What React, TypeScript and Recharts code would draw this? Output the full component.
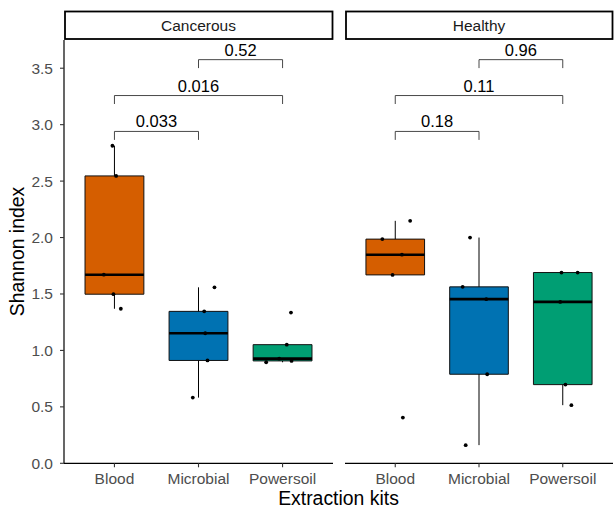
import React from 'react';
import { ComposedChart, XAxis, YAxis, Scatter, ReferenceArea, ReferenceLine } from 'recharts';

// ---- data ----
const kits = ['Blood', 'Microbial', 'Powersoil'];
const kitColors = ['#D55E00', '#0072B2', '#009E73'];
const panels = ['Cancerous', 'Healthy'];
const yTicks = [0, 0.5, 1, 1.5, 2, 2.5, 3, 3.5];

// Shannon index of each sample
const cancerousBlood = [2.813, 2.546, 1.671, 1.498, 1.369];
const cancerousMicrobial = [1.559, 1.346, 1.152, 0.911, 0.582];
const cancerousPowersoil = [1.335, 1.051, 0.927, 0.895, 0.907];
const healthyBlood = [2.148, 1.986, 1.848, 1.669, 0.405];
const healthyMicrobial = [2.0, 1.563, 1.454, 0.789, 0.161];
const healthyPowersoil = [1.69, 1.69, 1.43, 0.697, 0.515];

// horizontal jitter of each sample (category units)
const cancerousJitter = [
  [-0.024, 0.02, -0.126, -0.012, 0.076],
  [0.19, 0.068, 0.08, 0.107, -0.068],
  [0.1, 0.05, -0.04, -0.195, 0.107],
];
const healthyJitter = [
  [0.178, -0.154, 0.08, -0.032, 0.091],
  [-0.107, -0.195, 0.087, 0.098, -0.159],
  [-0.015, 0.178, -0.03, 0.032, 0.103],
];

// pairwise comparisons (kit index pairs) and p-values
const comparisons = [
  [0, 1],
  [0, 2],
  [1, 2],
];
const cancerousP = ['0.033', '0.016', '0.52'];
const healthyP = ['0.18', '0.11', '0.96'];

// ---- stats ----
function quantile(sorted: number[], p: number) {
  const h = (sorted.length - 1) * p;
  const lo = Math.floor(h);
  const hi = Math.ceil(h);
  return sorted[lo] + (h - lo) * (sorted[hi] - sorted[lo]);
}
function boxStats(vals: number[]) {
  const s = [...vals].sort((a, b) => a - b);
  const q1 = quantile(s, 0.25);
  const med = quantile(s, 0.5);
  const q3 = quantile(s, 0.75);
  const iqr = q3 - q1;
  const inside = s.filter((v) => v >= q1 - 1.5 * iqr && v <= q3 + 1.5 * iqr);
  return { q1, med, q3, lo: Math.min(...inside), hi: Math.max(...inside) };
}

const FONT = "'Liberation Sans', Arial, Helvetica, sans-serif";
const BOX_HALF = 0.35;
const BRACKET_BASE = 2.94;
const BRACKET_STEP = 0.318;
const BRACKET_TIP = 0.075;

const Dot = (props: any) => <circle cx={props.cx} cy={props.cy} r={1.9} fill="#000" />;

function Panel({ groups, jitter, pvals, showY, width, marginLeft, marginRight }: any) {
  const points = groups.flatMap((vals: number[], g: number) =>
    vals.map((v, j) => ({ x: g + 1 + jitter[g][j], y: v }))
  );
  const stats = groups.map(boxStats);
  return (
    <ComposedChart
      width={width}
      height={508}
      margin={{ top: 40, right: marginRight, bottom: 14.7, left: marginLeft }}
      data={points}
    >
      <XAxis
        type="number"
        dataKey="x"
        domain={[0.4, 3.6]}
        ticks={[1, 2, 3]}
        interval={0}
        allowDataOverflow
        tickFormatter={(v: number) => kits[Math.round(v) - 1]}
        height={30}
        tickSize={4}
        tickMargin={6}
        axisLine={{ stroke: '#000', strokeWidth: 1.2 }}
        tickLine={{ stroke: '#333', strokeWidth: 1.1 }}
        tick={{ fill: '#4d4d4d', fontSize: 15.5 }}
      />
      <YAxis
        type="number"
        dataKey="y"
        domain={[0, 3.75]}
        ticks={yTicks}
        interval={0}
        allowDataOverflow
        hide={!showY}
        width={64}
        tickFormatter={(v: number) => v.toFixed(1)}
        tickSize={4}
        tickMargin={7}
        axisLine={{ stroke: '#000', strokeWidth: 1.2 }}
        tickLine={{ stroke: '#333', strokeWidth: 1.1 }}
        tick={{ fill: '#4d4d4d', fontSize: 15.5 }}
      />
      {stats.map((s: any, g: number) => (
        <ReferenceLine
          key={'wu' + g}
          segment={[
            { x: g + 1, y: s.q3 },
            { x: g + 1, y: s.hi },
          ]}
          stroke="#000"
          strokeWidth={1}
          ifOverflow="visible"
        />
      ))}
      {stats.map((s: any, g: number) => (
        <ReferenceLine
          key={'wl' + g}
          segment={[
            { x: g + 1, y: s.q1 },
            { x: g + 1, y: s.lo },
          ]}
          stroke="#000"
          strokeWidth={1}
          ifOverflow="visible"
        />
      ))}
      {stats.map((s: any, g: number) => (
        <ReferenceArea
          key={'box' + g}
          x1={g + 1 - BOX_HALF}
          x2={g + 1 + BOX_HALF}
          y1={s.q1}
          y2={s.q3}
          fill={kitColors[g]}
          fillOpacity={1}
          stroke="#111"
          strokeWidth={1}
          ifOverflow="visible"
        />
      ))}
      {stats.map((s: any, g: number) => (
        <ReferenceLine
          key={'med' + g}
          segment={[
            { x: g + 1 - BOX_HALF, y: s.med },
            { x: g + 1 + BOX_HALF, y: s.med },
          ]}
          stroke="#000"
          strokeWidth={2.6}
          ifOverflow="visible"
        />
      ))}
      {comparisons.map(([a, b], i) => {
        const yTop = BRACKET_BASE + i * BRACKET_STEP;
        return (
          <React.Fragment key={'br' + i}>
            <ReferenceLine
              segment={[
                { x: a + 1, y: yTop },
                { x: b + 1, y: yTop },
              ]}
              stroke="#333"
              strokeWidth={0.9}
              ifOverflow="visible"
              label={{ value: pvals[i], position: 'top', offset: 4, fill: '#000', fontSize: 16.5 }}
            />
            <ReferenceLine
              segment={[
                { x: a + 1, y: yTop },
                { x: a + 1, y: yTop - BRACKET_TIP },
              ]}
              stroke="#333"
              strokeWidth={0.9}
              ifOverflow="visible"
            />
            <ReferenceLine
              segment={[
                { x: b + 1, y: yTop },
                { x: b + 1, y: yTop - BRACKET_TIP },
              ]}
              stroke="#333"
              strokeWidth={0.9}
              ifOverflow="visible"
            />
          </React.Fragment>
        );
      })}
      <Scatter data={points} dataKey="y" isAnimationActive={false} shape={Dot} />
    </ComposedChart>
  );
}

export default function App() {
  return (
    <div
      style={{
        position: 'absolute',
        left: 0,
        top: 0,
        width: 615,
        height: 508,
        background: '#fff',
        fontFamily: FONT,
      }}
    >
      <div style={{ position: 'absolute', left: 0, top: 0 }}>
        <Panel
          groups={[cancerousBlood, cancerousMicrobial, cancerousPowersoil]}
          jitter={cancerousJitter}
          pvals={cancerousP}
          showY={true}
          width={340}
          marginLeft={0}
          marginRight={7}
        />
      </div>
      <div style={{ position: 'absolute', left: 333, top: 0 }}>
        <Panel
          groups={[healthyBlood, healthyMicrobial, healthyPowersoil]}
          jitter={healthyJitter}
          pvals={healthyP}
          showY={false}
          width={282}
          marginLeft={12}
          marginRight={2}
        />
      </div>
      <svg
        width={615}
        height={508}
        style={{ position: 'absolute', left: 0, top: 0, pointerEvents: 'none' }}
      >
        <rect x={65} y={11.5} width={267.5} height={27.5} fill="#fff" stroke="#000" strokeWidth={1.8} />
        <rect x={346} y={11.5} width={266.5} height={27.5} fill="#fff" stroke="#000" strokeWidth={1.8} />
        <text x={198.5} y={31} textAnchor="middle" fontSize={15.5} fill="#1a1a1a">
          {panels[0]}
        </text>
        <text x={479} y={31} textAnchor="middle" fontSize={15.5} fill="#1a1a1a">
          {panels[1]}
        </text>
        <text x={338.5} y={505} textAnchor="middle" fontSize={19.4} fill="#000">
          Extraction kits
        </text>
        <text
          x={0}
          y={0}
          transform="translate(23.5,251.5) rotate(-90)"
          textAnchor="middle"
          fontSize={19.4}
          fill="#000"
        >
          Shannon index
        </text>
      </svg>
    </div>
  );
}
